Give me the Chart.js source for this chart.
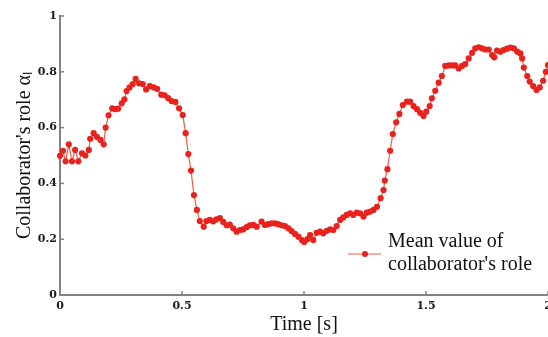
<!DOCTYPE html>
<html>
<head>
<meta charset="utf-8">
<script src="https://cdn.jsdelivr.net/npm/chart.js@4/dist/chart.umd.min.js"></script>
<style>
  html, body { margin: 0; padding: 0; background: #fff; }
  #wrap { width: 548px; height: 337px; }
</style>
</head>
<body>
<div id="wrap"><canvas id="roleChart" width="548" height="337"></canvas></div>
<script>
// time axis (s)
const times = [0.000,0.012,0.023,0.036,0.049,0.062,0.075,0.090,0.104,0.118,
  0.124,0.138,0.151,0.166,0.179,0.187,0.199,0.214,0.226,0.238,
  0.253,0.264,0.273,0.285,0.298,0.310,0.324,0.339,0.353,0.368,
  0.384,0.398,0.415,0.429,0.443,0.457,0.473,0.488,0.503,0.515,
  0.526,0.537,0.549,0.561,0.573,0.589,0.600,0.614,0.628,0.641,
  0.655,0.669,0.683,0.696,0.710,0.724,0.737,0.751,0.765,0.778,
  0.792,0.806,0.826,0.840,0.853,0.867,0.881,0.894,0.908,0.922,
  0.936,0.949,0.963,0.977,0.991,1.001,1.014,1.025,1.038,1.052,
  1.066,1.079,1.093,1.107,1.120,1.134,1.148,1.161,1.175,1.189,
  1.202,1.216,1.230,1.244,1.257,1.271,1.285,1.299,1.314,1.326,
  1.331,1.342,1.353,1.364,1.378,1.391,1.405,1.422,1.435,1.449,
  1.463,1.476,1.490,1.501,1.515,1.524,1.538,1.552,1.565,1.579,
  1.593,1.607,1.620,1.634,1.648,1.661,1.675,1.689,1.702,1.716,
  1.730,1.743,1.757,1.771,1.780,1.791,1.805,1.818,1.832,1.846,
  1.860,1.874,1.887,1.894,1.901,1.915,1.925,1.939,1.953,1.966,
  1.980,1.991,2.000];

// mean value of collaborator's role
const roleMean = [0.499,0.517,0.479,0.540,0.479,0.520,0.479,0.508,0.500,0.520,
  0.560,0.580,0.567,0.556,0.540,0.600,0.644,0.669,0.666,0.668,
  0.687,0.701,0.731,0.744,0.756,0.775,0.759,0.756,0.737,0.749,
  0.744,0.739,0.718,0.716,0.706,0.695,0.692,0.669,0.645,0.580,
  0.505,0.446,0.358,0.305,0.265,0.245,0.265,0.269,0.264,0.271,
  0.276,0.262,0.250,0.252,0.239,0.227,0.233,0.235,0.243,0.250,
  0.251,0.245,0.263,0.251,0.254,0.257,0.257,0.254,0.250,0.247,
  0.239,0.229,0.219,0.209,0.197,0.190,0.200,0.215,0.197,0.223,
  0.227,0.221,0.230,0.235,0.233,0.247,0.269,0.278,0.287,0.293,
  0.287,0.295,0.293,0.281,0.295,0.299,0.305,0.316,0.347,0.376,
  0.410,0.451,0.517,0.577,0.619,0.649,0.681,0.693,0.693,0.677,
  0.666,0.653,0.642,0.657,0.677,0.705,0.732,0.761,0.785,0.821,
  0.823,0.823,0.823,0.812,0.821,0.828,0.848,0.868,0.884,0.888,
  0.884,0.880,0.880,0.860,0.852,0.876,0.872,0.878,0.883,0.887,
  0.884,0.872,0.866,0.848,0.815,0.785,0.765,0.749,0.735,0.744,
  0.768,0.800,0.824];

const xTicks = [0, 0.5, 1, 1.5, 2];
const yTicks = [0, 0.2, 0.4, 0.6, 0.8, 1];
const legendLines = ["Mean value of", "collaborator's role"];

const pointColor = "rgb(232,34,28)";
const lineColor = "rgb(240,92,72)";
const axisColor = "#838383";
const serif = "'Liberation Serif', 'Times New Roman', serif";

// short ticks drawn inside the plot, matlab style
const innerTicks = {
  id: "innerTicks",
  afterDraw(chart) {
    const { ctx, chartArea, scales } = chart;
    ctx.save();
    ctx.strokeStyle = axisColor;
    ctx.lineWidth = 1.5;
    xTicks.forEach((v) => {
      const px = scales.x.getPixelForValue(v);
      ctx.beginPath();
      ctx.moveTo(px, chartArea.bottom);
      ctx.lineTo(px, chartArea.bottom - 4);
      ctx.stroke();
    });
    yTicks.forEach((v) => {
      const py = scales.y.getPixelForValue(v);
      ctx.beginPath();
      ctx.moveTo(chartArea.left, py);
      ctx.lineTo(chartArea.left + 4, py);
      ctx.stroke();
    });
    ctx.restore();
  },
};

// legend box sitting inside the plot, lower right
const insideLegend = {
  id: "insideLegend",
  afterDraw(chart) {
    const { ctx, chartArea } = chart;
    const x0 = chartArea.right - 200;
    const y0 = chartArea.bottom - 41;
    ctx.save();
    ctx.strokeStyle = lineColor;
    ctx.lineWidth = 1.2;
    ctx.beginPath();
    ctx.moveTo(x0, y0);
    ctx.lineTo(x0 + 33, y0);
    ctx.stroke();
    ctx.fillStyle = pointColor;
    ctx.beginPath();
    ctx.arc(x0 + 17, y0, 3, 0, Math.PI * 2);
    ctx.fill();
    ctx.fillStyle = "#111";
    ctx.font = "20px " + serif;
    ctx.textBaseline = "alphabetic";
    ctx.fillText(legendLines[0], x0 + 40, y0 - 7);
    ctx.fillText(legendLines[1], x0 + 40, y0 + 16);
    ctx.restore();
  },
};

const ctx = document.getElementById("roleChart").getContext("2d");
new Chart(ctx, {
  type: "line",
  data: {
    datasets: [
      {
        label: legendLines.join(" "),
        data: times.map((t, i) => ({ x: t, y: roleMean[i] })),
        borderColor: lineColor,
        borderWidth: 1.2,
        backgroundColor: pointColor,
        pointBackgroundColor: pointColor,
        pointBorderWidth: 0,
        pointRadius: 3.1,
        tension: 0,
        clip: false,
      },
    ],
  },
  options: {
    responsive: false,
    animation: false,
    layout: { autoPadding: false, padding: { top: 16, right: 0, bottom: 0, left: 0 } },
    plugins: {
      legend: { display: false },
      tooltip: { enabled: false },
    },
    scales: {
      x: {
        type: "linear",
        min: 0,
        max: 2,
        afterBuildTicks: (scale) => {
          scale.ticks = xTicks.map((v) => ({ value: v }));
        },
        afterFit: (scale) => {
          scale.height = 42;
          scale.paddingLeft = 0;
          scale.paddingRight = 0;
        },
        grid: { display: false, drawTicks: false, tickLength: 0 },
        border: { display: true, color: axisColor, width: 2 },
        ticks: {
          padding: 5,
          maxRotation: 0,
          autoSkip: false,
          color: "#1a1a1a",
          font: { family: "'DejaVu Serif', serif", weight: "bold", size: 11 },
          callback: (v) => String(v),
        },
        title: {
          display: true,
          text: "Time [s]",
          color: "#111",
          font: { family: serif, size: 20 },
          padding: { top: 0, bottom: 0 },
        },
      },
      y: {
        min: 0,
        max: 1,
        afterBuildTicks: (scale) => {
          scale.ticks = yTicks.map((v) => ({ value: v }));
        },
        afterFit: (scale) => {
          scale.width = 60;
          scale.paddingTop = 0;
          scale.paddingBottom = 0;
        },
        grid: { display: false, drawTicks: false, tickLength: 0 },
        border: { display: true, color: axisColor, width: 2 },
        ticks: {
          padding: 3,
          autoSkip: false,
          color: "#1a1a1a",
          font: { family: "'DejaVu Serif', serif", weight: "bold", size: 11 },
          callback: (v) => String(v),
        },
        title: {
          display: true,
          text: "Collaborator's role \u03b1\u2097",
          color: "#111",
          font: { family: serif, size: 20 },
          padding: { top: 13, bottom: 0 },
        },
      },
    },
  },
  plugins: [innerTicks, insideLegend],
});
</script>
</body>
</html>
